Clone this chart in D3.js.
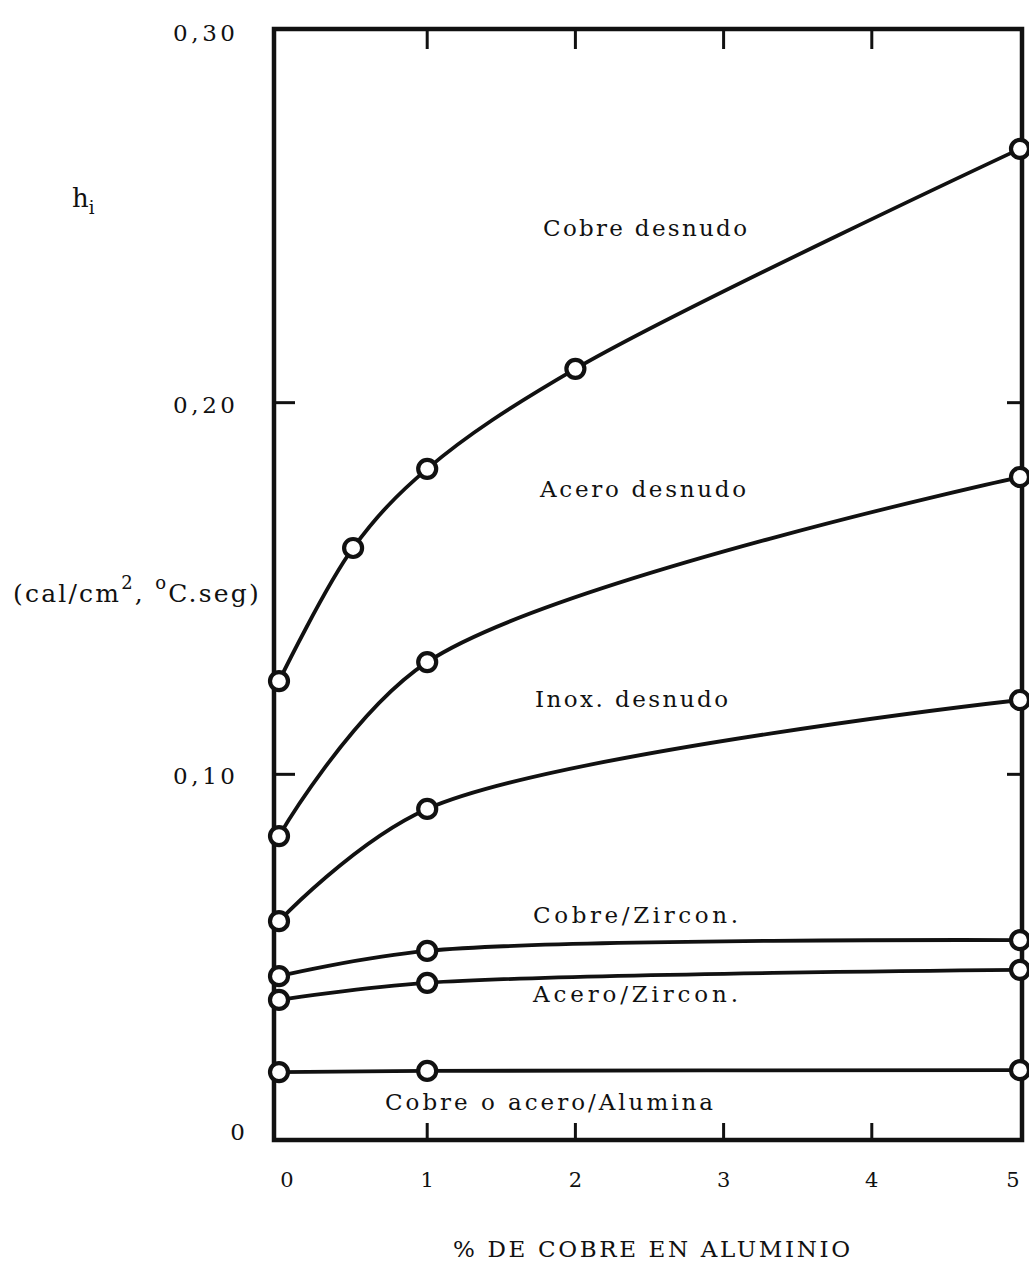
<!DOCTYPE html>
<html><head><meta charset="utf-8">
<script src="https://cdn.jsdelivr.net/npm/d3@7"></script>
<style>body{margin:0;background:#fff;} svg{display:block;} text{fill:#111;font-family:"DejaVu Serif","Liberation Serif",serif;}</style>
</head><body><svg id="c" width="1029" height="1272"></svg>
<script>
// ---- data ----
const xTicks = [0, 1, 2, 3, 4, 5];
const yTicks = [0, 0.10, 0.20, 0.30];
const yTickLabels = ["0", "0,10", "0,20", "0,30"];
const seriesNames = ["Cobre desnudo", "Acero desnudo", "Inox. desnudo", "Cobre/Zircon.", "Acero/Zircon.", "Cobre o acero/Alumina"];
const cobreDesnudoX = [0, 0.5, 1, 2, 5];
const cobreDesnudoY = [0.1251, 0.1609, 0.1822, 0.2091, 0.2683];
const aceroDesnudoX = [0, 1, 5];
const aceroDesnudoY = [0.0834, 0.1302, 0.1800];
const inoxDesnudoX = [0, 1, 5];
const inoxDesnudoY = [0.0605, 0.0907, 0.1200];
const cobreZirconX = [0, 1, 5];
const cobreZirconY = [0.0457, 0.0525, 0.0554];
const aceroZirconX = [0, 1, 5];
const aceroZirconY = [0.0393, 0.0439, 0.0474];
const aluminaX = [0, 1, 5];
const aluminaY = [0.0199, 0.0202, 0.0204];

const series = [
  {name: seriesNames[0], xs: cobreDesnudoX, ys: cobreDesnudoY, lx: 543, ly: 236, lw: 204},
  {name: seriesNames[1], xs: aceroDesnudoX, ys: aceroDesnudoY, lx: 540, ly: 497, lw: 206},
  {name: seriesNames[2], xs: inoxDesnudoX, ys: inoxDesnudoY, lx: 535, ly: 707, lw: 193},
  {name: seriesNames[3], xs: cobreZirconX, ys: cobreZirconY, lx: 533, ly: 923, lw: 205},
  {name: seriesNames[4], xs: aceroZirconX, ys: aceroZirconY, lx: 533, ly: 1002, lw: 205},
  {name: seriesNames[5], xs: aluminaX, ys: aluminaY, lx: 385, ly: 1110, lw: 328}
];

// ---- layout ----
const svg = d3.select("#c");
const x = d3.scaleLinear().domain([0, 5]).range([279, 1020]);
const y = d3.scaleLinear().domain([0, 0.30]).range([1146, 31]);
const frame = {left: 274, right: 1022, top: 29, bottom: 1140};

// frame
svg.append("rect")
  .attr("x", frame.left).attr("y", frame.top)
  .attr("width", frame.right - frame.left).attr("height", frame.bottom - frame.top)
  .attr("fill", "none").attr("stroke", "#111").attr("stroke-width", 4.5);

// inner ticks on x (top and bottom)
const tk = 17;
xTicks.filter(d => d > 0 && d < 5).forEach(d => {
  svg.append("line").attr("x1", x(d)).attr("x2", x(d)).attr("y1", frame.top).attr("y2", frame.top + tk + 3)
    .attr("stroke", "#111").attr("stroke-width", 3);
  svg.append("line").attr("x1", x(d)).attr("x2", x(d)).attr("y1", frame.bottom).attr("y2", frame.bottom - tk)
    .attr("stroke", "#111").attr("stroke-width", 3);
});
// inner ticks on y (left and right)
yTicks.filter(d => d > 0 && d < 0.30).forEach(d => {
  svg.append("line").attr("x1", frame.left).attr("x2", frame.left + tk + 4).attr("y1", y(d)).attr("y2", y(d))
    .attr("stroke", "#111").attr("stroke-width", 3);
  svg.append("line").attr("x1", frame.right).attr("x2", frame.right - tk + 2).attr("y1", y(d)).attr("y2", y(d))
    .attr("stroke", "#111").attr("stroke-width", 3);
});

// y tick labels
yTicks.forEach((d, i) => {
  const isZero = d === 0;
  svg.append("text")
    .attr("x", isZero ? 245 : 235)
    .attr("y", isZero ? 1140 : y(d) + 10)
    .attr("text-anchor", "end")
    .attr("font-size", 23)
    .attr("textLength", isZero ? null : 62)
    .attr("lengthAdjust", "spacing")
    .text(yTickLabels[i]);
});

// x tick labels
xTicks.forEach((d, i) => {
  const dx = d === 0 ? 8 : (d === 5 ? -7 : 0);
  svg.append("text")
    .attr("x", x(d) + dx).attr("y", 1187)
    .attr("text-anchor", "middle")
    .attr("font-size", 21)
    .text(String(d));
});

// axis titles
svg.append("text").attr("x", 453).attr("y", 1257).attr("font-size", 23)
  .attr("textLength", 397).attr("lengthAdjust", "spacing")
  .text("% DE COBRE EN ALUMINIO");

const hi = svg.append("text").attr("x", 72).attr("y", 207).attr("font-size", 26);
hi.append("tspan").text("h");
hi.append("tspan").attr("font-size", 18).attr("dy", 7).text("i");

const unit = svg.append("text").attr("x", 13).attr("y", 602).attr("font-size", 25)
  .attr("letter-spacing", 2.2);
unit.append("tspan").text("(cal/cm");
unit.append("tspan").attr("font-size", 18).attr("dy", -13).text("2");
unit.append("tspan").attr("dy", 13).text(", ");
unit.append("tspan").attr("font-size", 18).attr("dy", -13).text("o");
unit.append("tspan").attr("dy", 13).text("C.seg)");

// curves
const line = d3.line().x(d => x(d[0])).y(d => y(d[1])).curve(d3.curveCatmullRom.alpha(0.5));
series.forEach(s => {
  const pts = s.xs.map((v, i) => [v, s.ys[i]]);
  svg.append("path").attr("d", line(pts)).attr("fill", "none")
    .attr("stroke", "#111").attr("stroke-width", 3.8);
});
series.forEach(s => {
  const pts = s.xs.map((v, i) => [v, s.ys[i]]);
  svg.selectAll(null).data(pts).enter().append("circle")
    .attr("cx", d => x(d[0])).attr("cy", d => y(d[1])).attr("r", 9)
    .attr("fill", "#fff").attr("stroke", "#111").attr("stroke-width", 4.2);
  svg.append("text").attr("x", s.lx).attr("y", s.ly).attr("font-size", 23)
    .attr("textLength", s.lw).attr("lengthAdjust", "spacing").text(s.name);
});
</script></body></html>
